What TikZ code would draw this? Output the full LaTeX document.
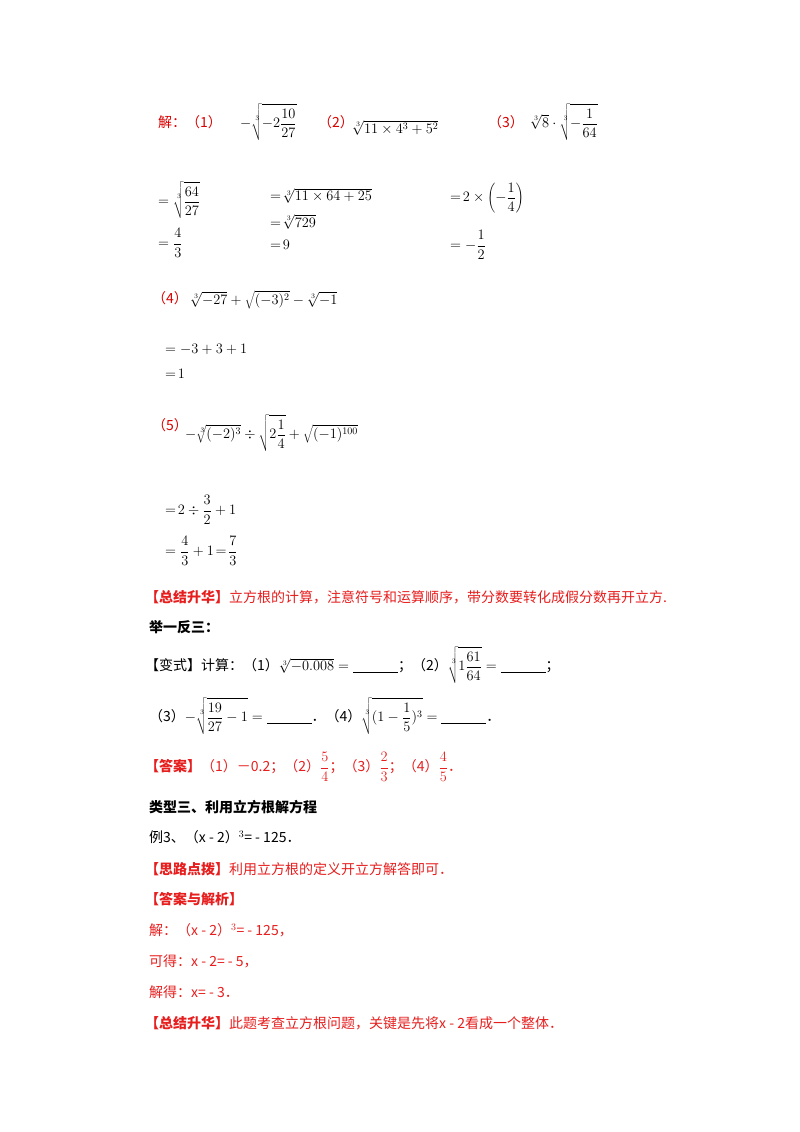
\documentclass[tikz,border=0pt]{standalone}
\usepackage{fontspec}
\setmainfont{Liberation Serif}
\newfontfamily\cjk{Noto Sans CJK SC}
\begin{document}
\begin{tikzpicture}[x=1pt,y=-1pt,
  t/.style={anchor=west,inner sep=0pt,font=\fontsize{14}{17}\selectfont},
  r/.style={t,text=red!85!black}]
\definecolor{rd}{RGB}{230,30,30}
\useasboundingbox (0,0) rectangle (800,1132);
\node[r] (a1) at (158,122) {\cjk 解：（1）};
\node[t] (m1) at (240,122) {$\displaystyle -\sqrt[3]{-2\frac{10}{27}}$};
\node[r] (a2) at (318,122) {\cjk （2）};
\node[t] (m2) at (352,128) {$\sqrt[3]{11\times4^3+5^2}$};
\node[r] (a3) at (488,122) {\cjk （3）};
\node[t] (m3) at (530,122) {$\displaystyle \sqrt[3]{8}\cdot\sqrt[3]{-\frac{1}{64}}$};
\node[t] (b1) at (158,200) {$\displaystyle =\sqrt[3]{\frac{64}{27}}$};
\node[t] (b2) at (270,196) {$=\!\sqrt[3]{11\times64+25}$};
\node[t] (b3) at (270,222) {$=\!\sqrt[3]{729}$};
\node[t] (b4) at (158,243) {$\displaystyle =\frac{4}{3}$};
\node[t] (b5) at (270,245) {$=\!9$};
\node[t] (c1) at (450,198) {$\displaystyle =\!2\times\left(-\frac{1}{4}\right)$};
\node[t] (c2) at (450,245) {$\displaystyle =-\frac{1}{2}$};
\node[r] (a4) at (152,298) {\cjk （4）};
\node[t] (m4) at (190,300) {$\sqrt[3]{-27}+\sqrt{(-3)^2}-\sqrt[3]{-1}$};
\node[t] (d1) at (165,349) {$=-3+3+1$};
\node[t] (d2) at (165,374) {$=\!1$};
\node[r] (a5) at (152,425) {\cjk （5）};
\node[t] (m5) at (185,433) {$\displaystyle -\sqrt[3]{(-2)^3}\div\sqrt{2\frac{1}{4}}+\sqrt{(-1)^{100}}$};
\node[t] (e1) at (165,510) {$\displaystyle =\!2\div\frac{3}{2}+1$};
\node[t] (e2) at (165,551) {$\displaystyle =\frac{4}{3}+1\!=\!\frac{7}{3}$};
\node[t,text=rd] (s1) at (145,597) {\cjk\textbf{【总结升华】}立方根的计算，注意符号和运算顺序，带分数要转化成假分数再开立方.};
\node[t] (j) at (149,627) {\cjk\textbf{举一反三：}};
\node[t] (v1) at (145,665) {\cjk 【变式】计算：（1）$\sqrt[3]{-0.008}=\underline{\hspace{3.2em}}$；（2）$\displaystyle\sqrt[3]{1\frac{61}{64}}=\underline{\hspace{3.2em}}$；};
\node[t] (v2) at (149,716) {\cjk （3）$\displaystyle-\sqrt[3]{\frac{19}{27}-1}=\underline{\hspace{3.2em}}$．（4）$\displaystyle\sqrt[3]{(1-\frac{1}{5})^3}=\underline{\hspace{3.2em}}$．};
\node[t,text=rd] (ans) at (145,767) {\cjk\textbf{【答案】}（1）－0.2；（2）$\displaystyle\frac{5}{4}$；（3）$\displaystyle\frac{2}{3}$；（4）$\displaystyle\frac{4}{5}$．};
\node[t] (l3) at (149,807) {\cjk\textbf{类型三、利用立方根解方程}};
\node[t] (ex) at (149,837) {\cjk 例3、（x - 2）$^3$= - 125．};
\node[t,text=rd] (sl) at (145,869) {\cjk\textbf{【思路点拨】}利用立方根的定义开立方解答即可．};
\node[t,text=rd] (da) at (145,899) {\cjk\textbf{【答案与解析】}};
\node[t,text=rd] (j1) at (149,930) {\cjk 解：（x - 2）$^3$= - 125，};
\node[t,text=rd] (j2) at (149,961) {\cjk 可得：x - 2= - 5，};
\node[t,text=rd] (j3) at (149,992) {\cjk 解得：x= - 3．};
\node[t,text=rd] (s2) at (145,1023) {\cjk\textbf{【总结升华】}此题考查立方根问题，关键是先将x - 2看成一个整体．};
\end{tikzpicture}
\end{document}
